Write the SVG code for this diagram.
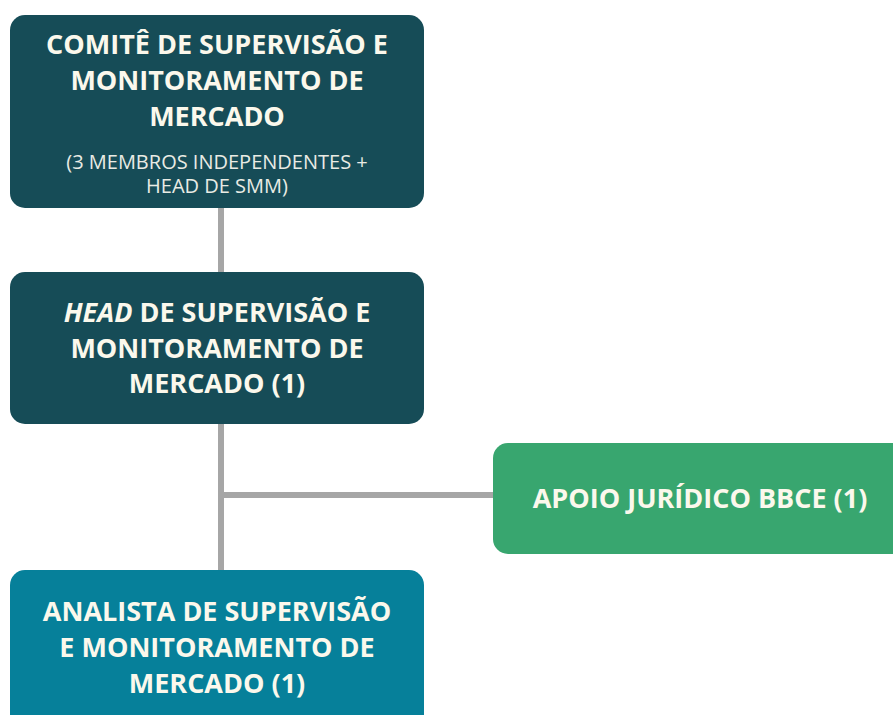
<svg xmlns="http://www.w3.org/2000/svg" width="893" height="715" viewBox="0 0 893 715">
<style>
.t{font-family:"Open Sans","Liberation Sans",sans-serif;font-weight:700;font-size:27px;fill:#fbf8ec;text-anchor:middle}
.s{font-family:"Open Sans","Liberation Sans",sans-serif;font-weight:400;font-size:20px;fill:#e9ebe4;text-anchor:middle}
.c{stroke:#a6a6a6;stroke-width:6;fill:none}
</style>
<rect width="893" height="715" fill="#ffffff"/>
<g id="connectors">
<line class="c" x1="221" y1="208" x2="221" y2="272"/>
<line class="c" x1="221" y1="423" x2="221" y2="570"/>
<line class="c" x1="221" y1="495" x2="493" y2="495"/>
</g>
<g id="comite">
<rect x="10" y="15" width="414" height="193" rx="15" fill="#164c57"/>
<text class="t" x="217" y="54">COMITÊ DE SUPERVISÃO E</text>
<text class="t" x="217" y="90">MONITORAMENTO DE</text>
<text class="t" x="217" y="126">MERCADO</text>
<text class="s" x="217" y="169">(3 MEMBROS INDEPENDENTES +</text>
<text class="s" x="217" y="193">HEAD DE SMM)</text>
</g>
<g id="head">
<rect x="10" y="272" width="414" height="152" rx="15" fill="#164c57"/>
<text class="t" x="217" y="322"><tspan font-style="italic">HEAD</tspan> DE SUPERVISÃO E</text>
<text class="t" x="217" y="358">MONITORAMENTO DE</text>
<text class="t" x="217" y="393">MERCADO (1)</text>
</g>
<g id="apoio">
<rect x="493" y="443" width="414" height="111" rx="15" fill="#38a66f"/>
<text class="t" x="700" y="508">APOIO JURÍDICO BBCE (1)</text>
</g>
<g id="analista">
<rect x="10" y="570" width="414" height="180" rx="15" fill="#06809a"/>
<text class="t" x="217" y="621">ANALISTA DE SUPERVISÃO</text>
<text class="t" x="217" y="657">E MONITORAMENTO DE</text>
<text class="t" x="217" y="693">MERCADO (1)</text>
</g>
</svg>
